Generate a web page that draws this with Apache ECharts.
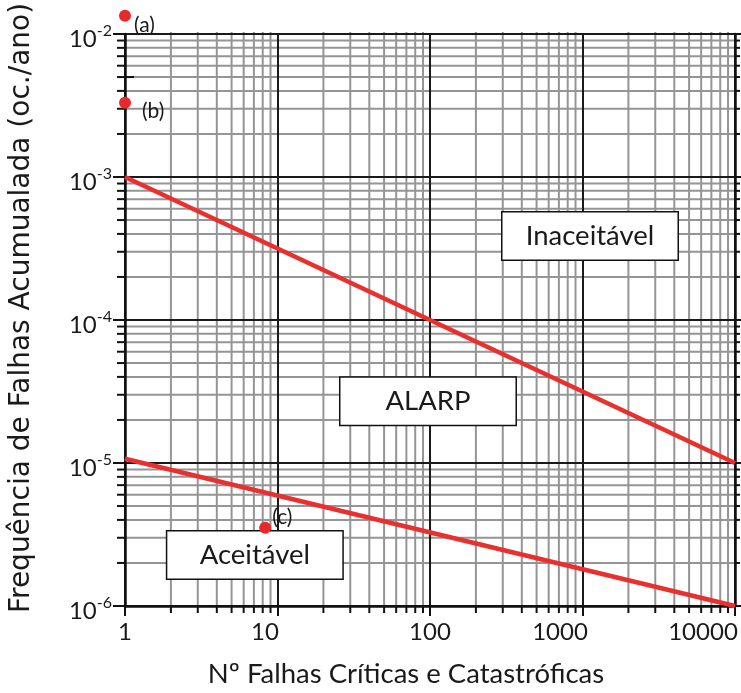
<!DOCTYPE html>
<html><head><meta charset="utf-8">
<script src="https://cdn.jsdelivr.net/npm/echarts@6/dist/echarts.min.js"></script>
<style>html,body{margin:0;padding:0;background:#fff}#c{width:741px;height:693px}</style>
</head><body><div id="c"></div>
<script>
// ---- data ----
const X_MIN = 1, X_MAX = 10000;
const Y_MIN = 1e-6, Y_MAX = 1e-2;
const xTickLabels = ['1', '10', '100', '1000', '10000'];
const xMinor = [2,3,4,5,6,7,8,9, 20,30,40,50,60,70,80,90, 200,300,400,500,600,700,800,900, 2000,3000,4000,5000,6000,7000,8000,9000];
const yMinor = [2e-6,3e-6,4e-6,5e-6,6e-6,7e-6,8e-6,9e-6, 2e-5,3e-5,4e-5,5e-5,6e-5,7e-5,8e-5,9e-5,
                2e-4,3e-4,4e-4,5e-4,6e-4,7e-4,8e-4,9e-4, 2e-3,3e-3,4e-3,5e-3,6e-3,7e-3,8e-3,9e-3];
const yCross = [5e-3];
const upperLimit = [[1, 1e-3], [10000, 1e-5]];
const lowerLimit = [[1, 1.07e-5], [10000, 1e-6]];
const pointX = [1, 1, 8.3];
const pointY = [1.34e-2, 3.3e-3, 3.52e-6];
const pointNames = ['(a)', '(b)', '(c)'];
const zoneNames = ['Inaceitável', 'ALARP', 'Aceitável'];
const zoneX = [1120, 97, 7.1];
const zoneY = [3.86e-4, 2.7e-5, 2.27e-6];

const FONT = 'Lato';
const TXT = '#1a1a1a';
const RED = '#e8302f';

const chart = echarts.init(document.getElementById('c'), null, {renderer: 'canvas'});

const xLabelStyle = {'1': 'p0', '10': 'p1', '100': 'p0', '1000': 'p2', '10000': 'p3'};
const lbl = {fontFamily: FONT, fontSize: 24, color: TXT};

function near(a, b) { return Math.abs(a - b) / b < 1e-6; }

const pointOffsets = [[0, 9], [8, 8], [-2, -11]];

chart.setOption({
  animation: false,
  backgroundColor: '#fff',
  grid: {left: 125, right: 6, top: 34, bottom: 84, containLabel: false},
  xAxis: [{
    type: 'log', logBase: 10, min: X_MIN, max: X_MAX,
    axisLine: {show: true, lineStyle: {color: '#111', width: 2.5}},
    axisTick: {show: true, length: 10, lineStyle: {color: '#111', width: 2}},
    splitLine: {show: true, lineStyle: {color: '#1a1a1a', width: 2}},
    axisLabel: {
      margin: 14,
      formatter: function (v) {
        const s = xTickLabels[Math.round(Math.log10(v))];
        return '{' + (xLabelStyle[s] || 'p0') + '|' + s + '}';
      },
      rich: {
        p0: Object.assign({}, lbl),
        p1: Object.assign({padding: [0, 25, 0, 0]}, lbl),
        p2: Object.assign({padding: [0, 45, 0, 0]}, lbl),
        p3: Object.assign({padding: [0, 64, 0, 0]}, lbl)
      }
    },
    name: 'Nº Falhas Críticas e Catastróficas',
    nameLocation: 'middle', nameGap: 54,
    nameTextStyle: {fontFamily: FONT, fontSize: 27.5, color: TXT, padding: [0, 48, 0, 0]}
  }],
  yAxis: [{
    type: 'log', logBase: 10, min: Y_MIN, max: Y_MAX,
    axisLine: {show: true, lineStyle: {color: '#111', width: 2.5}},
    axisTick: {show: true, length: 12, lineStyle: {color: '#111', width: 2}},
    splitLine: {show: true, lineStyle: {color: '#1a1a1a', width: 2}},
    axisLabel: {
      margin: 13,
      formatter: function (v) { return '{n|10}{s|' + Math.round(Math.log10(v)) + '}'; },
      rich: {
        n: {fontFamily: FONT, fontSize: 24, color: TXT, padding: [10, 0, 0, 0]},
        s: {fontFamily: FONT, fontSize: 16, color: TXT, padding: [0, 0, 6, 0]}
      }
    },
    name: 'Frequência de Falhas Acumualada (oc./ano)',
    nameLocation: 'middle', nameGap: 89,
    nameTextStyle: {fontFamily: 'DejaVu Sans', fontSize: 28, color: TXT, padding: [0, 0, 0, 24]}
  }, {
    type: 'log', logBase: 10, min: Y_MIN, max: Y_MAX, position: 'right',
    axisLine: {show: true, lineStyle: {color: '#111', width: 2.5}},
    axisTick: {show: true, length: 6, lineStyle: {color: '#111', width: 2}},
    axisLabel: {show: false}, splitLine: {show: false}
  }],
  series: [
    {
      type: 'custom', name: 'xMinor', z: -1, silent: true,
      data: xMinor.map(v => [v, Y_MIN]),
      renderItem: function (params, api) {
        const v = api.value(0);
        const top = api.coord([v, Y_MAX]);
        const bot = api.coord([v, Y_MIN]);
        return {type: 'group', children: [
          {type: 'line', shape: {x1: top[0], y1: top[1] - 2, x2: bot[0], y2: bot[1]}, style: {stroke: '#959595', lineWidth: 2}},
          {type: 'line', shape: {x1: bot[0], y1: bot[1], x2: bot[0], y2: bot[1] + 7}, style: {stroke: '#111', lineWidth: 2}}
        ]};
      }
    },
    {
      type: 'custom', name: 'yMinor', z: -1, silent: true,
      data: yMinor.map(v => [X_MIN, v]),
      renderItem: function (params, api) {
        const v = api.value(1);
        const l = api.coord([X_MIN, v]);
        const r = api.coord([X_MAX, v]);
        const cross = yCross.some(c => near(c, v));
        const ch = [
          {type: 'line', shape: {x1: l[0], y1: l[1], x2: r[0], y2: r[1]}, style: {stroke: '#959595', lineWidth: 2}},
          {type: 'line', shape: {x1: l[0] - 8, y1: l[1], x2: l[0] + (cross ? 9 : 0), y2: l[1]}, style: {stroke: '#111', lineWidth: 2}},
          {type: 'line', shape: {x1: r[0], y1: r[1], x2: r[0] + 5, y2: r[1]}, style: {stroke: '#111', lineWidth: 2}}
        ];
        return {type: 'group', children: ch};
      }
    },
    {
      type: 'line', name: 'upper', z: 3, symbol: 'none', silent: true,
      data: upperLimit, lineStyle: {color: RED, width: 4.5}
    },
    {
      type: 'line', name: 'lower', z: 3, symbol: 'none', silent: true,
      data: lowerLimit, lineStyle: {color: RED, width: 4.5}
    },
    {
      type: 'scatter', name: 'zones', z: 4, silent: true, symbolSize: 2,
      itemStyle: {color: 'rgba(0,0,0,0)', opacity: 1},
      data: zoneNames.map((n, i) => ({name: n, value: [zoneX[i], zoneY[i]]})),
      label: {
        show: true, position: 'inside', formatter: p => p.name,
        width: 175, height: 47, lineHeight: 47, align: 'center', verticalAlign: 'middle',
        backgroundColor: '#fff', borderColor: '#111', borderWidth: 1.5,
        fontFamily: FONT, fontSize: 27.5, color: TXT
      }
    },
    {
      type: 'scatter', name: 'points', z: 5, silent: true, clip: false,
      symbolSize: 12, itemStyle: {color: '#e8282b', opacity: 1},
      data: pointNames.map((n, i) => ({
        name: n, value: [pointX[i], pointY[i]],
        label: {offset: pointOffsets[i]}
      })),
      label: {
        show: true, position: 'right', distance: 3, formatter: p => p.name,
        fontFamily: FONT, fontSize: 21, color: TXT
      }
    }
  ]
});
</script>
</body></html>
